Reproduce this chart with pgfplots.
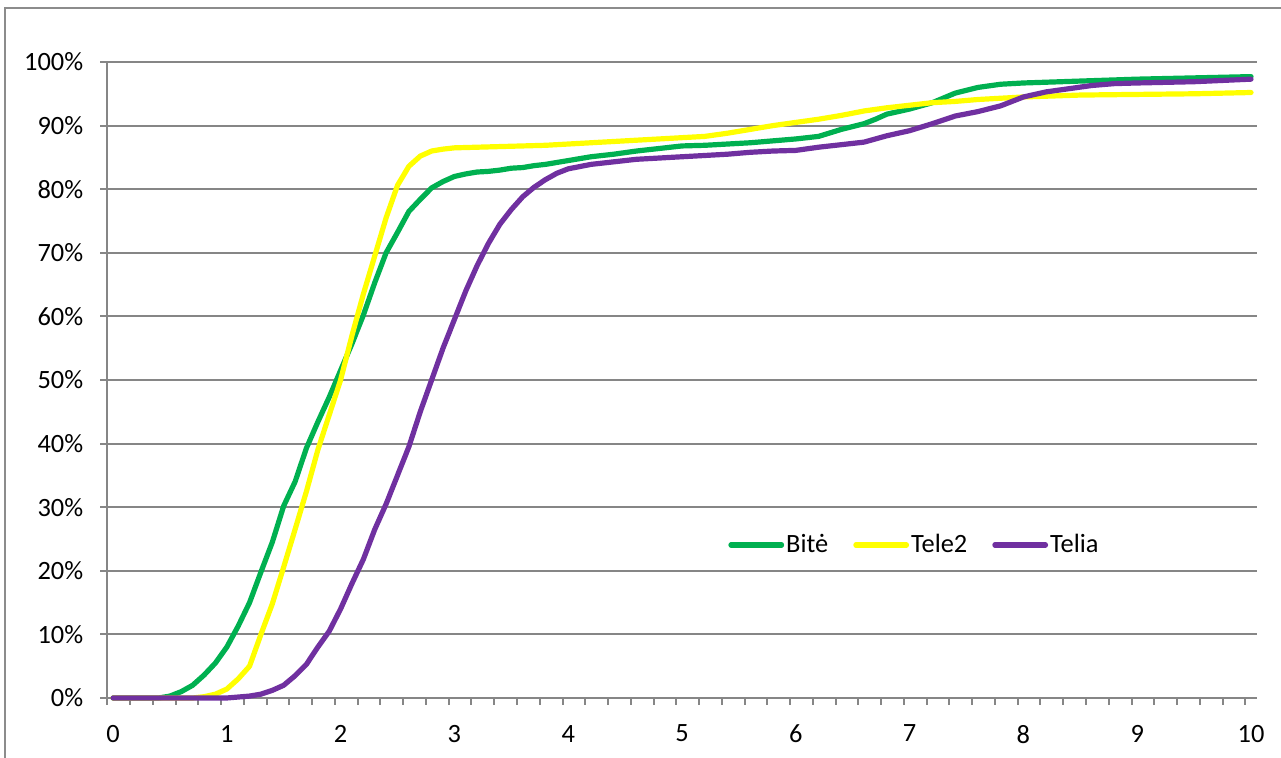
\documentclass[border=0pt]{standalone}
\usepackage{pgfplots}
\pgfplotsset{compat=1.18}
\usepackage{pgfplotstable}
\usepackage{fontspec}
\setmainfont{Carlito}
\definecolor{gridgray}{HTML}{868686}
\definecolor{framegray}{HTML}{8C8C8C}
\definecolor{bite}{HTML}{00B050}
\definecolor{tele}{HTML}{FFFF00}
\definecolor{telia}{HTML}{7030A0}

\pgfplotstableread{
x y
0 0
0.4 0
0.5 0.3
0.6 1.0
0.7 2.0
0.8 3.6
0.9 5.5
1.0 8.0
1.1 11.3
1.2 15.0
1.3 19.8
1.4 24.5
1.5 30.2
1.6 34.0
1.7 39.3
1.8 43.4
1.9 47.3
2.0 51.5
2.1 55.7
2.2 60.2
2.3 65.3
2.4 70.0
2.5 73.2
2.6 76.5
2.7 78.4
2.8 80.2
2.9 81.2
3.0 82.0
3.1 82.4
3.2 82.7
3.3 82.8
3.4 83.0
3.5 83.3
3.6 83.4
3.7 83.7
3.8 83.9
3.9 84.2
4.0 84.5
4.2 85.1
4.4 85.5
4.6 86.0
4.8 86.4
5.0 86.8
5.2 86.9
5.4 87.1
5.6 87.3
5.8 87.6
6.0 87.9
6.2 88.3
6.4 89.4
6.6 90.3
6.7 91.0
6.8 91.8
7.0 92.6
7.2 93.6
7.4 95.1
7.6 96.0
7.8 96.5
8.0 96.7
8.5 97.0
9.0 97.3
9.5 97.5
10 97.7
}\bitetable

\pgfplotstableread{
x y
0 0
0.7 0
0.8 0.2
0.9 0.6
1.0 1.4
1.1 3.0
1.2 5.0
1.3 10.0
1.4 14.8
1.5 20.6
1.6 26.5
1.7 32.5
1.8 39.0
1.9 44.5
2.0 50.0
2.1 57.0
2.2 63.5
2.3 69.5
2.4 75.5
2.5 80.6
2.6 83.6
2.7 85.2
2.8 86.0
2.9 86.3
3.0 86.5
3.2 86.6
3.4 86.7
3.6 86.8
3.8 86.9
4.0 87.1
4.2 87.3
4.4 87.5
4.6 87.7
4.8 87.9
5.0 88.1
5.2 88.3
5.4 88.8
5.6 89.4
5.8 90.0
6.0 90.5
6.2 91.0
6.4 91.6
6.6 92.3
6.8 92.8
7.0 93.2
7.2 93.6
7.4 93.8
7.6 94.1
7.8 94.3
8.0 94.5
8.5 94.8
9.0 94.9
9.5 95.0
10 95.2
}\teletable

\pgfplotstableread{
x y
0 0
1.0 0
1.2 0.3
1.3 0.6
1.4 1.2
1.5 2.0
1.6 3.5
1.7 5.3
1.8 8.0
1.9 10.5
2.0 14.0
2.1 18.0
2.2 21.8
2.3 26.5
2.4 30.5
2.5 35.0
2.6 39.5
2.7 45.0
2.8 50.0
2.9 55.0
3.0 59.5
3.1 64.0
3.2 68.0
3.3 71.5
3.4 74.5
3.5 76.8
3.6 78.8
3.7 80.3
3.8 81.5
3.9 82.5
4.0 83.2
4.2 83.9
4.4 84.3
4.6 84.7
4.8 84.9
5.0 85.1
5.2 85.3
5.4 85.5
5.6 85.8
5.8 86.0
6.0 86.1
6.2 86.6
6.4 87.0
6.6 87.4
6.8 88.4
7.0 89.2
7.2 90.3
7.4 91.5
7.6 92.2
7.8 93.1
8.0 94.5
8.2 95.3
8.4 95.8
8.6 96.3
8.8 96.6
9.0 96.7
9.5 96.9
10 97.3
}\teliatable

\begin{document}
\begin{tikzpicture}
\path[use as bounding box] (0,0) rectangle (640.5pt,379pt);
\draw[framegray, line width=1pt] (2.5pt,0) -- (2.5pt,375pt) -- (641pt,375pt);
\begin{axis}[
  at={(53.65pt,30pt)}, anchor=south west,
  scale only axis, width=574.7pt, height=318pt,
  xmin=-0.05, xmax=10.05, ymin=0, ymax=100,
  axis x line=bottom, axis y line=left,
  axis line style={-, draw=gridgray, line width=1pt},
  xtick={-0.05,0.15,...,10.0},
  xticklabels={},
  extra x ticks={0,1,...,10},
  extra x tick labels={0,1,2,3,4,5,6,7,8,9,10},
  extra x tick style={grid=none, major tick length=0pt,
    xticklabel style={yshift=-10pt}},
  ytick={0,10,...,100},
  yticklabels={0\%,10\%,20\%,30\%,40\%,50\%,60\%,70\%,80\%,90\%,100\%},
  tick style={draw=gridgray, line width=1pt},
  tick align=outside,
  major tick length=3.5pt,
  ymajorgrids=true, xmajorgrids=false,
  major grid style={draw=gridgray, line width=1pt},
  tick label style={font=\fontsize{13.2pt}{15pt}\selectfont},
  yticklabel style={xshift=-5pt},
  /pgf/number format/assume math mode=true,
  clip=false,
  legend columns=3,
  legend style={at={(0.540,0.2406)}, anchor=west, draw=none, fill=none,
    inner sep=0pt, font=\fontsize{13.2pt}{15pt}\selectfont,
    nodes={inner sep=1pt},
    /tikz/every even column/.append style={column sep=11.5pt}},
  legend image code/.code={\draw[#1, line cap=round] (1.2pt,0pt) -- (26.5pt,0pt);},
  every axis plot/.append style={line width=2.6pt, line join=round, line cap=round},
]
\addplot[bite] table[x=x,y=y] {\bitetable};
\addplot[tele] table[x=x,y=y] {\teletable};
\addplot[telia] table[x=x,y=y] {\teliatable};
\legend{Bitė,Tele2,Telia}
\end{axis}
\end{tikzpicture}
\end{document}
